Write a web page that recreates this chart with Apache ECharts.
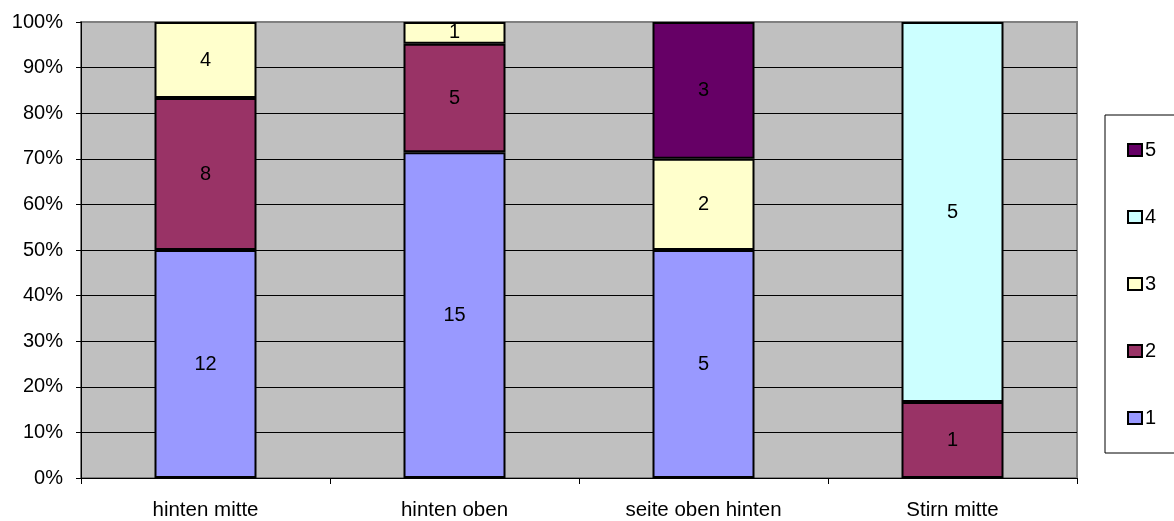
<!DOCTYPE html>
<html>
<head>
<meta charset="utf-8">
<script src="https://cdn.jsdelivr.net/npm/echarts@6/dist/echarts.min.js"></script>
<style>
  html, body { margin: 0; padding: 0; background: #fff; }
  #chart { width: 1174px; height: 521px; }
</style>
</head>
<body>
<div id="chart"></div>
<script>
// Kategorien
var categories = ['hinten mitte', 'hinten oben', 'seite oben hinten', 'Stirn mitte'];
// Anzahl je Bewertung (1..5)
var s1 = [12, 15, 5, 0];
var s2 = [8, 5, 0, 1];
var s3 = [4, 1, 2, 0];
var s4 = [0, 0, 0, 5];
var s5 = [0, 0, 3, 0];
var seriesNames = ['1', '2', '3', '4', '5'];
var colors = ['#9999FF', '#993366', '#FFFFCC', '#CCFFFF', '#660066'];

var all = [s1, s2, s3, s4, s5];
var totals = categories.map(function (c, i) {
  return all.reduce(function (sum, s) { return sum + s[i]; }, 0);
});

var font = 'Liberation Sans, Arial, sans-serif';

// 100% gestapelt: Wert in Prozent, Beschriftung mit der Anzahl
var series = all.map(function (s, k) {
  return {
    name: seriesNames[k],
    type: 'bar',
    stack: 'total',
    barWidth: 102,
    itemStyle: { color: colors[k], borderColor: '#000', borderWidth: 2 },
    label: {
      show: true,
      position: 'inside',
      color: '#000',
      fontSize: 20,
      fontFamily: font,
      formatter: function (p) { return p.data.raw; }
    },
    data: s.map(function (v, i) {
      return v === 0 ? { value: '-', raw: '' } : { value: v / totals[i] * 100, raw: v };
    })
  };
});

var gridColors = [];
for (var i = 0; i < 10; i++) gridColors.push('#000');
gridColors.push('#808080');

var chart = echarts.init(document.getElementById('chart'));
chart.setOption({
  animation: false,
  color: colors,
  grid: {
    left: 81, right: 97, top: 22, bottom: 42,
    show: true,
    backgroundColor: '#C0C0C0',
    borderColor: '#808080',
    borderWidth: 2
  },
  legend: {
    orient: 'vertical',
    left: 1105,
    top: 115,
    padding: [25, 80, 25, 22],
    borderColor: '#000',
    borderWidth: 1,
    itemWidth: 14,
    itemHeight: 12,
    itemGap: 47,
    icon: 'rect',
    data: ['5', '4', '3', '2', '1'],
    textStyle: { fontSize: 20, fontFamily: font, color: '#000', padding: [0, 0, 0, -2] }
  },
  xAxis: {
    type: 'category',
    data: categories,
    axisLine: { lineStyle: { color: '#000', width: 1 } },
    axisTick: { show: true, length: 6, lineStyle: { color: '#000' } },
    axisLabel: { color: '#000', fontSize: 20.5, fontFamily: font, margin: 22 },
    splitLine: { show: false }
  },
  yAxis: {
    type: 'value',
    min: 0,
    max: 100,
    interval: 10,
    axisLine: { show: true, lineStyle: { color: '#000', width: 1 } },
    axisTick: { show: true, length: 5, lineStyle: { color: '#000' } },
    axisLabel: { color: '#000', fontSize: 20, fontFamily: font, margin: 18, formatter: '{value}%' },
    splitLine: { show: true, lineStyle: { color: gridColors, width: 1 } }
  },
  series: series
});
</script>
</body>
</html>
